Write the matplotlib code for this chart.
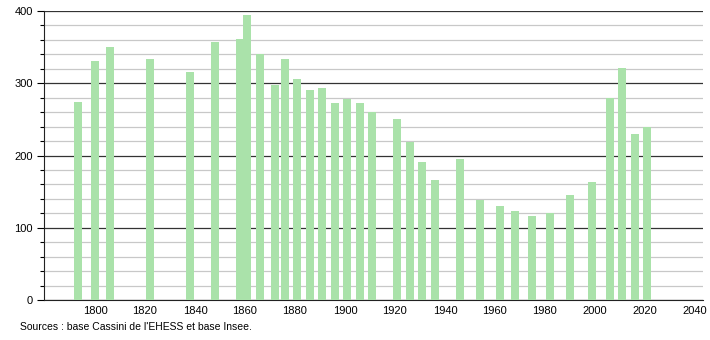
import matplotlib
matplotlib.use("Agg")
import matplotlib.pyplot as plt
from matplotlib.ticker import MultipleLocator

# census years and population
years = [1793, 1800, 1806, 1822, 1838, 1848, 1858, 1861, 1866, 1872, 1876,
         1881, 1886, 1891, 1896, 1901, 1906, 1911, 1921, 1926, 1931, 1936,
         1946, 1954, 1962, 1968, 1975, 1982, 1990, 1999, 2006, 2011, 2016, 2021]
population = [274, 331, 350, 333, 316, 357, 361, 394, 340, 298, 333,
              306, 291, 294, 272, 278, 272, 260, 250, 219, 191, 166,
              195, 138, 130, 123, 116, 120, 145, 164, 279, 321, 230, 239]
source = "Sources : base Cassini de l'EHESS et base Insee."

plt.rcParams['font.family'] = ['Liberation Sans', 'DejaVu Sans']

fig = plt.figure(figsize=(7.1, 3.4), dpi=100)
ax = fig.add_axes([0.062, 0.1176, 0.928, 0.85])

ax.bar(years, population, width=3.2, color='#aae2aa', zorder=3)

ax.set_xlim(1779.6, 2043.2)
ax.set_ylim(0, 400)
ax.xaxis.set_major_locator(MultipleLocator(20))
ax.yaxis.set_major_locator(MultipleLocator(100))
ax.yaxis.set_minor_locator(MultipleLocator(20))
ax.set_xticks(range(1800, 2041, 20))

ax.grid(axis='y', which='major', color='#333333', linewidth=0.9, zorder=1)
ax.grid(axis='y', which='minor', color='#c8c8c8', linewidth=0.9, zorder=1)

for s in ['top', 'right']:
    ax.spines[s].set_visible(False)
ax.spines['left'].set_color('#222222')
ax.spines['bottom'].set_color('#222222')

ax.tick_params(axis='y', which='major', length=5, width=0.8, labelsize=8, pad=3)
ax.tick_params(axis='y', which='minor', length=3, width=0.8)
ax.tick_params(axis='x', length=0, labelsize=8, pad=4)

fig.text(0.028, 0.038, source, fontsize=7.5, va='center', ha='left')

fig.savefig("out.png", dpi=100)
